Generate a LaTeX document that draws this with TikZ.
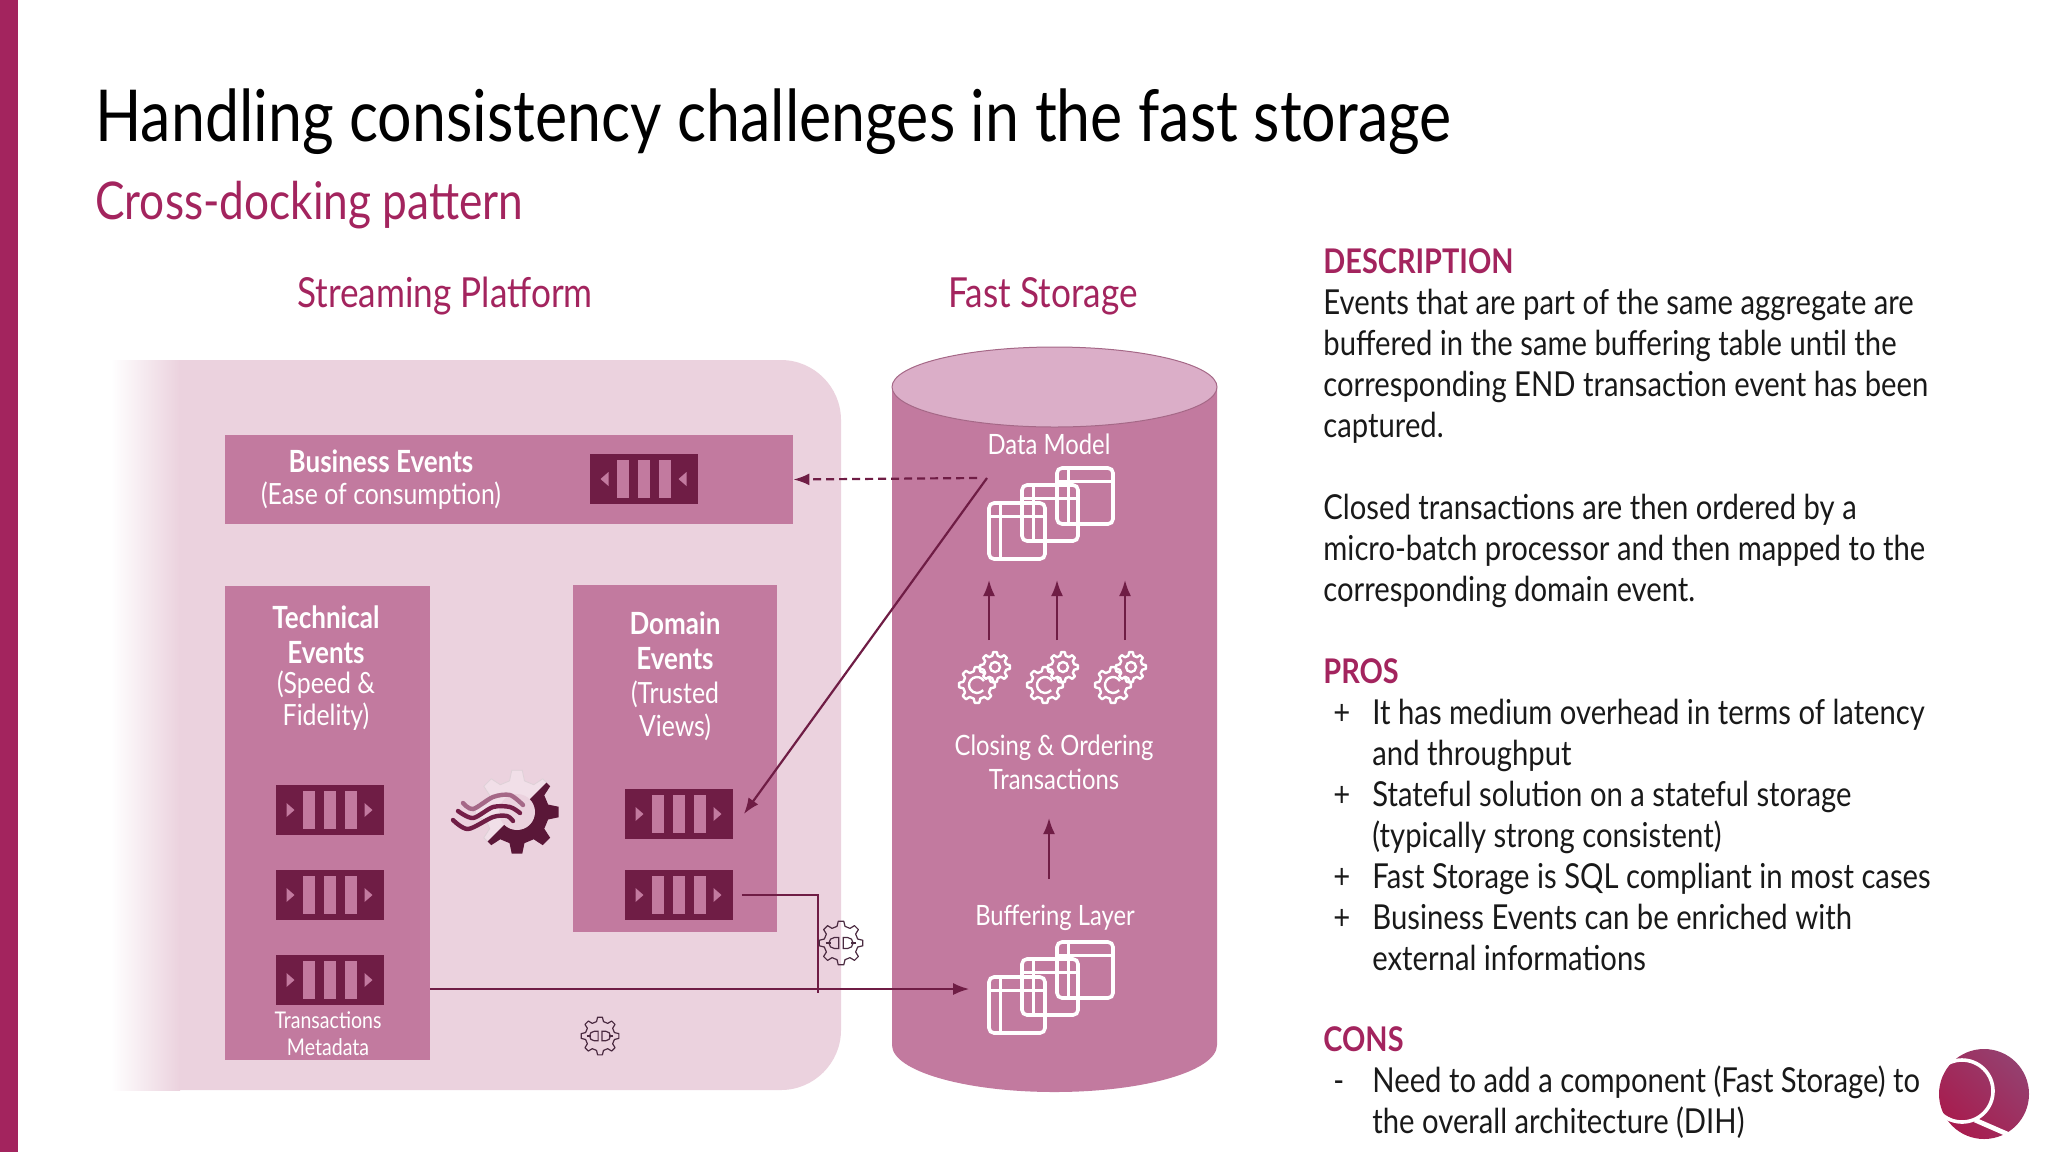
\documentclass[tikz,border=0pt]{standalone}
\usepackage{fontspec}
\setmainfont[FakeStretch=0.85]{Lato}
\usetikzlibrary{arrows.meta,calc,shapes.geometric}

\definecolor{brand}{HTML}{A3245E}
\definecolor{panelpink}{HTML}{EBD2DE}
\definecolor{boxpink}{HTML}{C27A9F}
\definecolor{toppink}{HTML}{DBAEC8}
\definecolor{wine}{HTML}{6F1D45}
\definecolor{darkwine}{HTML}{5A1738}
\definecolor{plumline}{HTML}{4A2A40}
\definecolor{logotop}{HTML}{95406F}
\definecolor{logobottom}{HTML}{A81C4E}

\tikzset{
    evbox/.style={fill=boxpink, inner sep=0pt},
    queuebox/.style={fill=wine, inner sep=0pt, minimum width=54pt, minimum height=25pt},
    tablebox/.style={draw=white, line width=1.8pt, rounded corners=2.5pt, inner sep=0pt, minimum width=28pt, minimum height=28pt},
    tableline/.style={draw=white, line width=1.5pt},
    boxhead/.style={text=white, font=\fontsize{15.3}{17}\selectfont\bfseries, align=center},
    boxnote/.style={text=white, font=\fontsize{14.6}{16}\selectfont, align=center},
    cyltext/.style={text=white, font=\fontsize{14}{17}\selectfont, align=center},
    heading/.style={text=brand, font=\fontsize{20.7}{24}\selectfont, align=center},
    sidetext/.style={anchor=north west, inner sep=0pt, align=left, text=black!90, font=\fontsize{17.2}{20.5}\selectfont},
    flow/.style={draw=wine, line width=1.1pt, -{Latex[length=8pt,width=6pt]}},
    plainflow/.style={draw=wine, line width=1.1pt}
}

\newcommand{\sidehead}[1]{{\fontsize{17}{20.5}\selectfont\bfseries\textcolor{brand}{#1}}}
\newcommand{\queuebars}[2]{
    \foreach \b in {-21,0,21}
        \fill[boxpink] ($(#1)+(\b-6,-19)$) rectangle ($(#1)+(\b+6,19)$);
    \foreach \t in {-39,39}
        \fill[boxpink] ($(#1)+(\t-#2*4,-7)$) -- ($(#1)+(\t+#2*4,0)$) -- ($(#1)+(\t-#2*4,7)$) -- cycle;
}
\newcommand{\tablelines}[1]{
    \draw[tableline] ($(#1.north west)+(0,15)$) -- ($(#1.north east)+(0,15)$);
    \draw[tableline] ($(#1.north west)+(13,0)$) -- ($(#1.south west)+(13,0)$);
}
% step of the teeth, outer radius, inner radius, options
\newcommand{\gearshape}[4]{
    \path[#4] ({-0.3*#1}:#3) \foreach \a in {0,#1,...,359} {
        -- ({\a-0.3*#1}:#3) -- ({\a-0.16*#1}:#2) -- ({\a+0.16*#1}:#2) -- ({\a+0.3*#1}:#3)
    } -- cycle;
}
\tikzset{
    pics/cogpair/.style={code={
        \gearshape{45}{18}{14}{draw=white, line width=1.2pt, line join=round}
        \draw[white, line width=1.2pt] (-30:8) arc[start angle=-30, end angle=-320, radius=8];
        \begin{scope}[shift={(18,-18)}]
            \gearshape{45}{15}{11.5}{draw=white, fill=boxpink, line width=1.2pt, line join=round}
            \draw[white, line width=1.2pt] (0,0) circle[radius=5];
        \end{scope}
    }},
    pics/pluggear/.style={code={
        \gearshape{45}{#1}{0.78*#1}{draw=plumline, line width=0.6pt, line join=round}
        \draw[plumline, line width=0.6pt] (-0.7*#1,0) -- (-0.45*#1,0) (0.7*#1,0) -- (0.45*#1,0);
        \draw[plumline, line width=0.6pt] (-0.1*#1,-0.25*#1) -- (-0.3*#1,-0.25*#1) arc[start angle=-90, end angle=-270, radius=0.25*#1] -- (-0.1*#1,0.25*#1) -- cycle;
        \draw[plumline, line width=0.6pt] (0.1*#1,-0.25*#1) -- (0.3*#1,-0.25*#1) arc[start angle=-90, end angle=90, radius=0.25*#1] -- (0.1*#1,0.25*#1) -- cycle;
    }}
}

\begin{document}
\begin{tikzpicture}[x=0.5pt, y=-0.5pt]
    \useasboundingbox (0,0) rectangle (2048,1152);
    \fill[brand] (0,0) rectangle (18,1152);

    % titles
    \node[anchor=base west, inner sep=0pt, font=\fontsize{35.8}{40}\selectfont] (title) at (95,141) {Handling consistency challenges in the fast storage};
    \node[anchor=base west, inner sep=0pt, text=brand, font=\fontsize{26}{30}\selectfont] (subtitle) at (95,219) {Cross-docking pattern};
    \node[heading] (streamhead) at (445,296) {Streaming Platform};
    \node[heading] (fasthead) at (1043,296) {Fast Storage};

    % streaming platform panel
    \shade[left color=white, right color=panelpink] (111,360) rectangle (180,1090);
    \fill[panelpink] (179,360) -- (781,360) .. controls (814,360) and (841,387) .. (841,420)
        -- (841,1030) .. controls (841,1063) and (814,1090) .. (781,1090) -- (179,1090) -- cycle;

    \node[evbox, minimum width=284pt, minimum height=44.5pt] (busbox) at (509,479.5) {};
    \node[evbox, minimum width=102.5pt, minimum height=237pt] (techbox) at (327.5,823) {};
    \node[evbox, minimum width=102pt, minimum height=173.5pt] (dombox) at (675,758.5) {};

    \node[boxhead] (bushead) at (381,461) {Business Events};
    \node[boxnote] (busnote) at (381,496) {(Ease of consumption)};
    \node[boxhead] (techhead) at (326,635) {Technical\\[0.5pt]Events};
    \node[boxnote] (technote) at (326,701) {(Speed \&\\Fidelity)};
    \node[boxhead] (domhead) at (675,641) {Domain\\[0.5pt]Events};
    \node[boxnote] (domnote) at (675,711) {(Trusted\\[0.5pt]Views)};
    \node[boxnote, font=\fontsize{11.5}{13.5}\selectfont] (metanote) at (328,1034) {Transactions\\Metadata};

    \node[queuebox] (busq) at (643.5,479) {};
    \node[queuebox] (techqa) at (329.5,810) {};
    \node[queuebox] (techqb) at (329.5,895) {};
    \node[queuebox] (techqc) at (329.5,980) {};
    \node[queuebox] (domqa) at (678.5,814) {};
    \node[queuebox] (domqb) at (678.5,895) {};
    \queuebars{busq}{-1}
    \queuebars{techqa}{1}
    \queuebars{techqb}{1}
    \queuebars{techqc}{1}
    \queuebars{domqa}{1}
    \queuebars{domqb}{1}

    % stream processor icon
    \begin{scope}[shift={(517,812)}]
        \begin{scope}
            \clip (38,-38) -- (-38,38) -- (-60,60) -- (-60,-60) -- (60,-60) -- cycle;
            \gearshape{45}{42}{32}{draw=panelpink!85!black!60!white, fill=panelpink!70!white, line width=0.4pt}
        \end{scope}
        \begin{scope}
            \clip (38,-38) -- (-38,38) -- (-50,60) -- (60,60) -- (60,-60) -- cycle;
            \gearshape{45}{42}{32}{fill=darkwine}
        \end{scope}
        \fill[panelpink] (0,0) circle[radius=18];
    \end{scope}
    \draw[boxpink!85!black, line width=2.2pt, line cap=round] plot[smooth] coordinates {(463,803) (473,809) (493,797) (510,795) (523,805)};
    \draw[wine!90!brand, line width=2.2pt, line cap=round] plot[smooth] coordinates {(458,811) (473,818) (493,807) (510,807) (520,813)};
    \draw[wine, line width=2.2pt, line cap=round] plot[smooth] coordinates {(453,820) (468,829) (493,817) (507,816) (513,821)};

    \pic (plugb) at (600,1036) {pluggear=19};

    % fast storage cylinder
    \fill[boxpink] (892,388) -- (892,1045) .. controls (892,1071) and (965,1092) .. (1054.5,1092)
        .. controls (1144,1092) and (1217,1071) .. (1217,1045) -- (1217,388) -- cycle;
    \node[ellipse, draw=boxpink!85!black, line width=0.5pt, fill=toppink, inner sep=0pt, minimum width=162.5pt, minimum height=40pt] (cyltop) at (1054.5,387) {};

    \node[cyltext] (modeltext) at (1049,444) {Data Model};
    \node[cyltext] (closetext) at (1054,762) {Closing \& Ordering\\[0pt]Transactions};
    \node[cyltext] (buftext) at (1055,918) {Buffering Layer};

    \node[tablebox] (modelta) at (1017,531) {};
    \node[tablebox] (modeltb) at (1050,513) {};
    \node[tablebox] (modeltc) at (1085,496) {};
    \tablelines{modelta}
    \tablelines{modeltb}
    \tablelines{modeltc}
    \node[tablebox] (bufta) at (1017,1005) {};
    \node[tablebox] (buftb) at (1050,987) {};
    \node[tablebox] (buftc) at (1085,970) {};
    \tablelines{bufta}
    \tablelines{buftb}
    \tablelines{buftc}

    \pic (coga) at (977,685) {cogpair};
    \pic (cogb) at (1045,685) {cogpair};
    \pic (cogc) at (1113,685) {cogpair};

    \coordinate (cogatop) at (989,640);
    \coordinate (cogbtop) at (1057,640);
    \coordinate (cogctop) at (1125,640);
    \coordinate (modelbota) at (989,580);
    \coordinate (modelbotb) at (1057,580);
    \coordinate (modelbotc) at (1125,580);
    \coordinate (bufup) at (1049,879);
    \coordinate (closedown) at (1049,818);
    \coordinate (modelport) at (987,478);
    \coordinate (modeldash) at (977,478);
    \coordinate (dommark) at (818,895);
    \coordinate (junction) at (818,989);

    % connections
    \draw[flow] (cogatop) -- (modelbota);
    \draw[flow] (cogbtop) -- (modelbotb);
    \draw[flow] (cogctop) -- (modelbotc);
    \draw[flow] (bufup) -- (closedown);
    \draw[flow, dash pattern=on 4pt off 2.5pt] (modeldash) -- (busbox.east);
    \draw[flow] (modelport) -- ($(domqa.east)+(11,0)$);
    \draw[flow] (techbox.east|-junction) -- ($(bufta.west)+(-18,-16)$);
    \draw[plainflow] ($(domqb.east)+(9,0)$) -- (dommark) -- ($(junction)+(0,4)$);

    \pic (pluga) at (841,943) {pluggear=22};

    % right column
    \node[sidetext] (description) at (1323,248) {\sidehead{DESCRIPTION}\\
        Events that are part of the same aggregate are\\
        buffered in the same buffering table until the\\
        corresponding END transaction event has been\\
        captured.\\[20.5pt]
        Closed transactions are then ordered by a\\
        micro-batch processor and then mapped to the\\
        corresponding domain event.};
    \node[sidetext] (pros) at (1323,658) {\sidehead{PROS}\\
        \makebox[24.5pt][l]{\hspace{5pt}+}It has medium overhead in terms of latency\\
        \hspace*{24.5pt}and throughput\\
        \makebox[24.5pt][l]{\hspace{5pt}+}Stateful solution on a stateful storage\\
        \hspace*{24.5pt}(typically strong consistent)\\
        \makebox[24.5pt][l]{\hspace{5pt}+}Fast Storage is SQL compliant in most cases\\
        \makebox[24.5pt][l]{\hspace{5pt}+}Business Events can be enriched with\\
        \hspace*{24.5pt}external informations};
    \node[sidetext] (cons) at (1323,1026) {\sidehead{CONS}\\
        \makebox[24.5pt][l]{\hspace{5pt}-}Need to add a component (Fast Storage) to\\
        \hspace*{24.5pt}the overall architecture (DIH)};

    % logo
    \shade[bottom color=logobottom, top color=logotop, shading angle=-45] (1984,1094) circle[radius=45];
    \draw[white, line width=1.8pt] (1962,1091) circle[radius=31];
    \draw[white, line width=2.4pt] (1975,1120) -- (2014,1137);
\end{tikzpicture}
\end{document}
